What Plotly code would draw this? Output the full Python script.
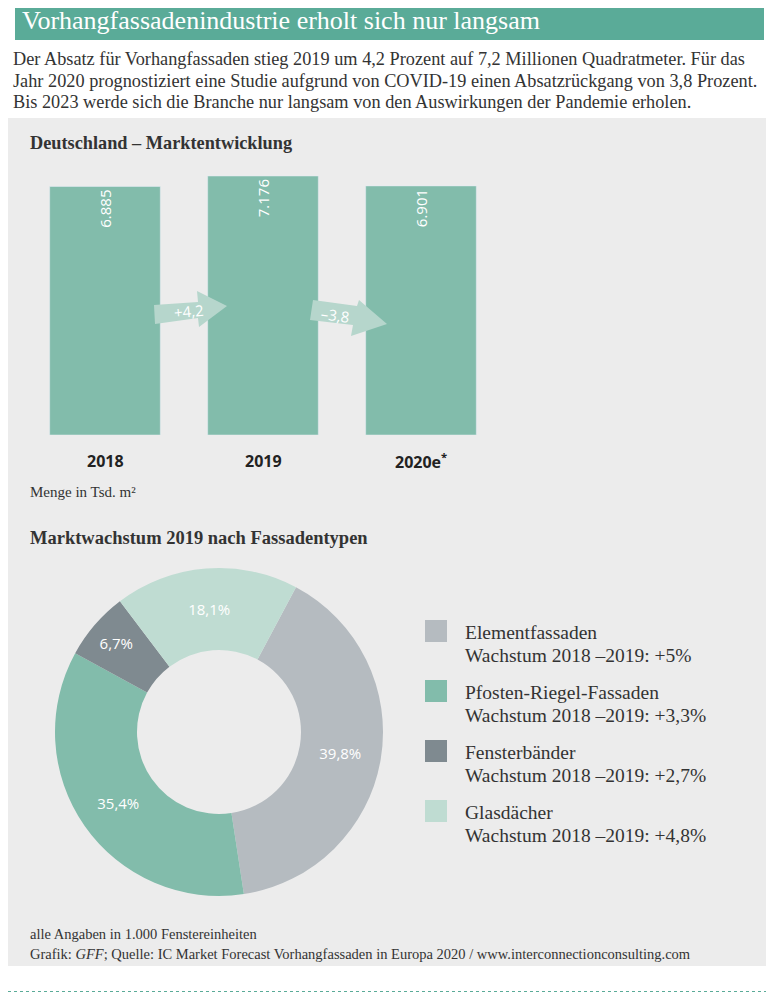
import plotly.graph_objects as go

OFF = 8
W, H = 778 - 2 * OFF, 1000 - 2 * OFF
years = ["2018", "2019", "2020e<sup>*</sup>"]
values = [6885, 7176, 6901]
value_labels = ["6.885", "7.176", "6.901"]
changes = ["+4,2", "–3,8"]
types = ["Elementfassaden", "Pfosten-Riegel-Fassaden", "Fensterbänder", "Glasdächer"]
shares = [39.8, 35.4, 6.7, 18.1]
share_labels = ["39,8%", "35,4%", "6,7%", "18,1%"]
growth = ["+5%", "+3,3%", "+2,7%", "+4,8%"]
colors = ["#b5bbc0", "#82bcab", "#7f8a90", "#bfdcd2"]
BAR = "#82bcab"
SERIF = "Liberation Serif"
SANS = "Open Sans"

def px(x): return max(0, (x - OFF) / W)
def py(y): return min(1, 1 - (y - OFF) / H)

fig = go.Figure()
fig.add_trace(go.Bar(x=[0, 1, 2], y=values, marker_color=BAR, width=0.7,
                     text=value_labels, textposition="inside", insidetextanchor="end",
                     textangle=-90, textfont=dict(color="white", size=15, family=SANS),
                     showlegend=False, hoverinfo="skip"))
fig.add_trace(go.Pie(labels=types, values=shares, hole=0.5, sort=False, direction="clockwise",
                     rotation=28, marker=dict(colors=colors), text=share_labels,
                     textinfo="text", textposition="inside", insidetextorientation="horizontal",
                     textfont=dict(color="white", size=15, family=SANS),
                     domain=dict(x=[px(55), px(383)], y=[py(897), py(567)]),
                     showlegend=False))

fig.update_layout(
    width=W, height=H, margin=dict(l=0, r=0, t=0, b=0),
    paper_bgcolor="white", plot_bgcolor="rgba(0,0,0,0)",
    xaxis=dict(domain=[px(26), px(500)], range=[-0.5, 2.5], showgrid=False, zeroline=False,
               showticklabels=False, fixedrange=True),
    yaxis=dict(domain=[py(435), py(166)], range=[0, 7176 * 269 / 259], showgrid=False,
               zeroline=False, showticklabels=False),
    bargap=0.3,
)

shapes = [
    dict(type="rect", xref="paper", yref="paper", x0=px(15), x1=px(764), y0=py(40), y1=py(0),
         fillcolor="#5aab98", line_width=0, layer="below"),
    dict(type="rect", xref="paper", yref="paper", x0=px(6), x1=px(766), y0=py(966), y1=py(118),
         fillcolor="#ececec", line_width=0, layer="below"),
    dict(type="line", xref="paper", yref="paper", x0=px(6), x1=px(766), y0=py(992), y1=py(992),
         line=dict(color="#5aab98", width=2, dash="dot")),
    dict(type="path", xref="paper", yref="paper", fillcolor="#b6d6cc", line_width=0,
         path=f"M {px(154)},{py(305)} L {px(198)},{py(302)} L {px(197)},{py(291)} L {px(227)},{py(306)} "
              f"L {px(199)},{py(327)} L {px(198)},{py(318)} L {px(155)},{py(324)} Z"),
    dict(type="path", xref="paper", yref="paper", fillcolor="#b6d6cc", line_width=0,
         path=f"M {px(313)},{py(300)} L {px(357)},{py(306)} L {px(359)},{py(300)} L {px(387)},{py(324)} "
              f"L {px(351)},{py(336)} L {px(353)},{py(325)} L {px(310)},{py(320)} Z"),
]
for i, c in enumerate(colors):
    y0 = 620 + 60 * i
    shapes.append(dict(type="rect", xref="paper", yref="paper", x0=px(425), x1=px(447),
                       y0=py(y0 + 22), y1=py(y0), fillcolor=c, line_width=0))
fig.update_layout(shapes=shapes)

def txt(x, y, s, size=16, color="#333", family=SERIF, xanchor="left", angle=0, **kw):
    fig.add_annotation(x=px(x), y=py(y), xref="paper", yref="paper", text=s, showarrow=False,
                       xanchor=xanchor, yanchor="middle", textangle=angle,
                       font=dict(size=size, color=color, family=family), **kw)

txt(20, 20, "Vorhangfassadenindustrie erholt sich nur langsam", size=26, color="white")
para = ["Der Absatz für Vorhangfassaden stieg 2019 um 4,2 Prozent auf 7,2 Millionen Quadratmeter. Für das",
        "Jahr 2020 prognostiziert eine Studie aufgrund von COVID-19 einen Absatzrückgang von 3,8 Prozent.",
        "Bis 2023 werde sich die Branche nur langsam von den Auswirkungen der Pandemie erholen."]
for i, l in enumerate(para):
    txt(11, 59 + 21.5 * i, l, size=18.3)
txt(28, 143, "<b>Deutschland – Marktentwicklung</b>", size=18.3)
for i, yv in enumerate(years):
    fig.add_annotation(x=i, y=0, xref="x", yref="y", yshift=-26, text=f"<b>{yv}</b>",
                       showarrow=False, font=dict(size=16, color="#222", family=SANS))
txt(189, 311, changes[0], size=15, color="white", family=SANS, xanchor="center", angle=-5)
txt(335, 315, changes[1], size=15, color="white", family=SANS, xanchor="center", angle=8)
txt(28, 492, "Menge in Tsd. m²", size=15)
txt(28, 538, "<b>Marktwachstum 2019 nach Fassadentypen</b>", size=18.5)
for i, t in enumerate(types):
    y0 = 620 + 60 * i
    txt(463, y0 + 12, t, size=19.5)
    txt(463, y0 + 35, f"Wachstum 2018 –2019: {growth[i]}", size=19.5)
txt(28, 934, "alle Angaben in 1.000 Fenstereinheiten", size=14.5)
txt(28, 954, "Grafik: <i>GFF</i>; Quelle: IC Market Forecast Vorhangfassaden in Europa 2020 / www.interconnectionconsulting.com", size=14.5)

fig.write_html("out.html")
